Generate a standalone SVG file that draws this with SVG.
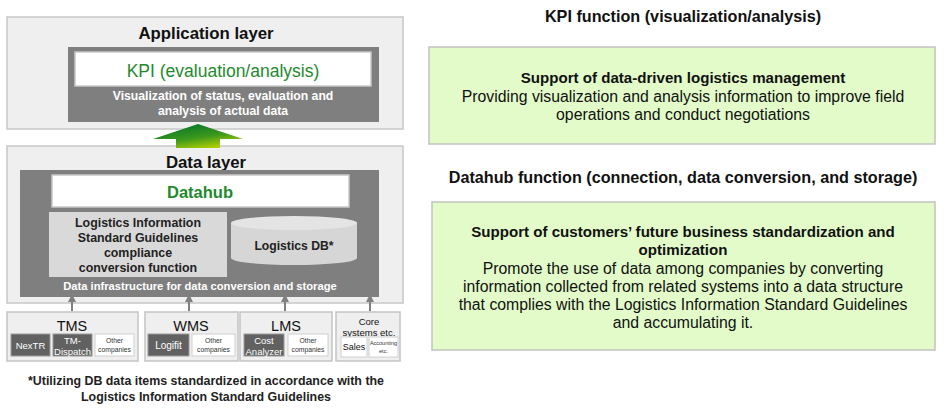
<svg xmlns="http://www.w3.org/2000/svg" width="950" height="410" viewBox="0 0 950 410">
<style>
text{font-family:"Liberation Sans",Arial,sans-serif;text-anchor:middle}
.layer{fill:#efefef;stroke:#c8c8c8;stroke-width:1.5}
.dark{fill:#7f7f7f}
.white{fill:#ffffff;stroke:#c8c8c8;stroke-width:1.5}
.lgray{fill:#d9d9d9}
.green{fill:#1e8a2c}
.hdr{font-size:16.8px;font-weight:700;fill:#111}
.wb{font-size:12.2px;font-weight:700;fill:#fff}
.db{font-size:12.4px;font-weight:700;fill:#222}
.sys{fill:#efefef;stroke:#c4c4c4;stroke-width:1.5}
.sysname{font-size:14.5px;fill:#111}
.sdark{fill:#616161;stroke:#9a9a9a;stroke-width:1}
.swhite{fill:#fff;stroke:#d0d0d0;stroke-width:1}
.st{font-size:9.5px;fill:#fff}
.sm{font-size:6.8px;fill:#333}
.gbox{fill:#e2fbc9;stroke:#c2c2c2;stroke-width:1.5}
.rt{font-size:16.2px;font-weight:700;fill:#111}
.bt{font-size:15.8px;fill:#111}
.btb{font-size:15.1px;font-weight:700;fill:#111}
.conn{stroke:#7f7f7f;stroke-width:2;fill:none;marker-end:url(#ah)}
</style>
<defs>
<linearGradient id="gg" x1="0.3" y1="0.1" x2="0.8" y2="1">
<stop offset="0" stop-color="#0b7a2a"/>
<stop offset="0.5" stop-color="#3f9a1c"/>
<stop offset="1" stop-color="#c4d800"/>
</linearGradient>
<marker id="ah" markerWidth="8" markerHeight="8" refX="4" refY="4" orient="auto" markerUnits="userSpaceOnUse">
<path d="M0,0 L8,4 L0,8 z" fill="#7f7f7f"/>
</marker>
</defs>

<g id="application-layer">
<rect class="layer" x="7" y="17" width="396" height="112"/>
<text class="hdr" x="206" y="39">Application layer</text>
<rect class="dark" x="68" y="47" width="311" height="75"/>
<rect class="white" x="75" y="52" width="296" height="34"/>
<text class="green" x="223" y="76.5" style="font-size:17.5px">KPI (evaluation/analysis)</text>
<text class="wb" x="223" y="100">Visualization of status, evaluation and</text>
<text class="wb" x="223" y="115">analysis of actual data</text>
</g>

<g id="data-layer">
<rect class="layer" x="7" y="146" width="396" height="157"/>
<text class="hdr" x="206" y="168">Data layer</text>
<rect class="dark" x="20" y="170" width="359" height="127"/>
<rect class="white" x="52" y="175" width="297" height="32"/>
<text class="green" x="200" y="197.5" style="font-size:16.5px;font-weight:700">Datahub</text>
<rect class="lgray" x="49" y="212" width="178" height="65"/>
<text class="db" x="138" y="226.5">Logistics Information</text>
<text class="db" x="138" y="241.5">Standard Guidelines</text>
<text class="db" x="138" y="256.5">compliance</text>
<text class="db" x="138" y="271.5">conversion function</text>
<path d="M231,223 L231,258 A63,7 0 0 0 357,258 L357,223 Z" fill="#d6d6d6"/>
<ellipse cx="294" cy="223" rx="63" ry="7" fill="#e4e4e4"/>
<text class="db" x="294" y="249.5" style="font-size:12.2px">Logistics DB*</text>
<text class="wb" x="200" y="290" style="font-size:11.2px">Data infrastructure for data conversion and storage</text>
</g>

<g id="up-arrow">
<polygon points="198,124 243,139 220,139 220,148 176,148 176,139 153,139" fill="url(#gg)"/>
</g>

<g id="connectors">
<line class="conn" x1="72" y1="311" x2="72" y2="298"/>
<line class="conn" x1="189" y1="311" x2="189" y2="298"/>
<line class="conn" x1="285" y1="311" x2="285" y2="298"/>
<line class="conn" x1="370" y1="311" x2="370" y2="298"/>
</g>

<g id="tms">
<rect class="sys" x="7" y="312" width="131" height="49"/>
<text class="sysname" x="72" y="330.5">TMS</text>
<rect class="sdark" x="11" y="334" width="39" height="22"/>
<text class="st" x="30.5" y="348.5">NexTR</text>
<rect class="sdark" x="53" y="334" width="39" height="22"/>
<text class="st" x="72.5" y="343.5">TM-</text>
<text class="st" x="72.5" y="354.5">Dispatch</text>
<rect class="swhite" x="95" y="334" width="39" height="22"/>
<text class="sm" x="114.5" y="343">Other</text>
<text class="sm" x="114.5" y="352">companies</text>
</g>

<g id="wms">
<rect class="sys" x="145" y="312" width="93" height="49"/>
<text class="sysname" x="191" y="330.5">WMS</text>
<rect class="sdark" x="148" y="334" width="41" height="22"/>
<text class="st" x="168.5" y="348.5" style="font-size:10px">Logifit</text>
<rect class="swhite" x="192" y="334" width="43" height="22"/>
<text class="sm" x="213.5" y="343">Other</text>
<text class="sm" x="213.5" y="352">companies</text>
</g>

<g id="lms">
<rect class="sys" x="240" y="312" width="92" height="49"/>
<text class="sysname" x="286" y="330.5">LMS</text>
<rect class="sdark" x="244" y="334" width="40" height="22"/>
<text class="st" x="264" y="343.5">Cost</text>
<text class="st" x="264" y="354.5">Analyzer</text>
<rect class="swhite" x="288" y="334" width="40" height="22"/>
<text class="sm" x="308" y="343">Other</text>
<text class="sm" x="308" y="352">companies</text>
</g>

<g id="core">
<rect class="sys" x="336" y="312" width="64" height="49"/>
<text x="369" y="324.5" font-size="9.5" fill="#111">Core</text>
<text x="369" y="335.5" font-size="9.5" fill="#111">systems etc.</text>
<rect class="swhite" x="341" y="337" width="26" height="20"/>
<text x="354" y="350" font-size="9" fill="#111">Sales</text>
<rect class="swhite" x="369" y="337" width="29" height="20"/>
<text x="383.5" y="345" font-size="5.5" fill="#333">Accounting</text>
<text x="383.5" y="353" font-size="5.5" fill="#333">etc.</text>
</g>

<g id="footnote">
<text class="db" x="206" y="385">*Utilizing DB data items standardized in accordance with the</text>
<text class="db" x="206" y="401">Logistics Information Standard Guidelines</text>
</g>

<g id="kpi-function">
<text class="rt" x="683" y="22">KPI function (visualization/analysis)</text>
<rect class="gbox" x="429" y="47" width="506" height="97"/>
<text class="btb" x="683" y="83">Support of data-driven logistics management</text>
<text class="bt" x="683" y="102">Providing visualization and analysis information to improve field</text>
<text class="bt" x="683" y="120">operations and conduct negotiations</text>
</g>

<g id="datahub-function">
<text class="rt" x="683" y="183">Datahub function (connection, data conversion, and storage)</text>
<rect class="gbox" x="432" y="202" width="503" height="148"/>
<text class="btb" x="683" y="237">Support of customers’ future business standardization and</text>
<text class="btb" x="683" y="255">optimization</text>
<text class="bt" x="683" y="273.5">Promote the use of data among companies by converting</text>
<text class="bt" x="683" y="292">information collected from related systems into a data structure</text>
<text class="bt" x="683" y="310">that complies with the Logistics Information Standard Guidelines</text>
<text class="bt" x="683" y="328">and accumulating it.</text>
</g>
</svg>
